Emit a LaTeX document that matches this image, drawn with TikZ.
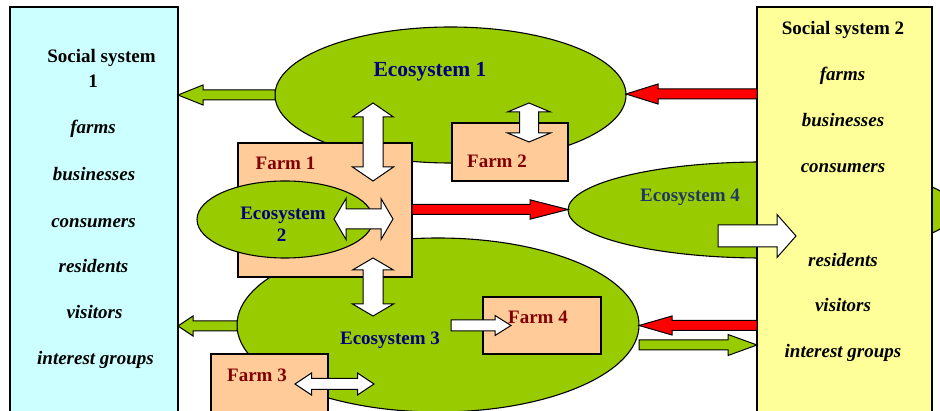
\documentclass[tikz,border=0pt]{standalone}
\usepackage{fontspec}
\setmainfont{Liberation Serif}
\usetikzlibrary{calc,shapes.geometric}
\definecolor{cyanbox}{HTML}{CCFFFF}
\definecolor{yelbox}{HTML}{FFFF99}
\definecolor{ecogreen}{HTML}{99CC00}
\definecolor{farmpeach}{HTML}{FFCC99}
\definecolor{navytxt}{HTML}{000080}
\definecolor{slatetxt}{HTML}{1F3866}
\definecolor{farmtxt}{HTML}{800000}
\definecolor{redarr}{HTML}{FF0000}
% single block arrow: style, start, tip, shaft half width, head half width, head length
\newcommand\blkarrow[6]{%
  \coordinate (bkC) at ($(#3)!#6!(#2)$);
  \draw[#1] ($(#2)!#4!90:(#3)$) -- ($(bkC)!#4!90:(#3)$) -- ($(bkC)!#5!90:(#3)$) -- (#3)
    -- ($(bkC)!#5!-90:(#3)$) -- ($(bkC)!#4!-90:(#3)$) -- ($(#2)!#4!-90:(#3)$) -- cycle;
}
% double block arrow: style, end A, end B, shaft half width, head half width, head length
\newcommand\dblarrow[6]{%
  \coordinate (bkA) at ($(#2)!#6!(#3)$);
  \coordinate (bkB) at ($(#3)!#6!(#2)$);
  \draw[#1] (#2) -- ($(bkA)!#5!90:(#3)$) -- ($(bkA)!#4!90:(#3)$) -- ($(bkB)!#4!90:(#3)$)
    -- ($(bkB)!#5!90:(#3)$) -- (#3) -- ($(bkB)!#5!-90:(#3)$) -- ($(bkB)!#4!-90:(#3)$)
    -- ($(bkA)!#4!-90:(#3)$) -- ($(bkA)!#5!-90:(#3)$) -- cycle;
}
\tikzset{
  base/.style={draw=black, line width=1.1pt, inner sep=0pt, outer sep=0pt},
  eco/.style={base, ellipse, fill=ecogreen},
  farm/.style={base, rectangle, fill=farmpeach, anchor=north west},
  ssbox/.style={base, rectangle, anchor=north west},
  arrw/.style={draw=black, line width=1pt, fill=white, line join=miter},
  arrr/.style={arrw, fill=redarr},
  arrg/.style={arrw, fill=ecogreen},
  lbl/.style={anchor=base, inner sep=0pt, font=\fontsize{19}{22}\selectfont\bfseries},
  itm/.style={anchor=base, inner sep=0pt, font=\fontsize{19}{22}\selectfont\bfseries\itshape},
}
\begin{document}
\begin{tikzpicture}[x=1pt,y=-1pt]
\useasboundingbox (0,0) rectangle (940,411);
\clip (0,0) rectangle (940,411);
\fill[white] (0,0) rectangle (940,411);
% social system boxes and ecosystems
\node[ssbox, fill=cyanbox, minimum width=168pt, minimum height=420pt] (ss1) at (10,7) {};
\node[eco, minimum width=351pt, minimum height=136pt] (eco1) at (450.5,95) {};
\node[eco, minimum width=388pt, minimum height=96pt] (eco4) at (762,210) {};
\node[eco, minimum width=402pt, minimum height=174pt] (eco3) at (438,325) {};
\node[ssbox, fill=yelbox, minimum width=175pt, minimum height=420pt] (ss2) at (757,7) {};
% farms
\node[farm, minimum width=174pt, minimum height=134pt] (farm1) at (238,143) {};
\node[farm, minimum width=116pt, minimum height=58pt] (farm2) at (452,123) {};
\node[farm, minimum width=117pt, minimum height=70pt] (farm3) at (211,354) {};
\node[farm, minimum width=118pt, minimum height=57pt] (farm4) at (483,297) {};
\node[eco, minimum width=176pt, minimum height=77pt] (eco2) at (285,219.5) {};
% arrow end points
\coordinate (a1s) at (eco1.west);
\coordinate (a1e) at (ss1.east |- eco1.west);
\coordinate (a2s) at (ss2.west |- 0,94);
\coordinate (a2e) at (eco1.east |- 0,94);
\coordinate (a3a) at (373,103);
\coordinate (a3b) at (373,181);
\coordinate (a4a) at (529,103);
\coordinate (a4b) at (529,142);
\coordinate (a5a) at (334,219);
\coordinate (a5b) at (393,219);
\coordinate (a6a) at (373,258);
\coordinate (a6b) at (373,316);
\coordinate (a7s) at (farm1.east |- 0,209.5);
\coordinate (a7e) at (eco4.west |- 0,209.5);
\coordinate (a8s) at (718,236);
\coordinate (a8e) at (796,236);
\coordinate (a9s) at (451,325.5);
\coordinate (a9e) at (511,325.5);
\coordinate (a10a) at (295,384);
\coordinate (a10b) at (374,384);
\coordinate (a11s) at (eco3.west |- 0,326);
\coordinate (a11e) at (ss1.east |- 0,326);
\coordinate (a12s) at (ss2.west |- 0,325.5);
\coordinate (a12e) at (639,325.5);
\coordinate (a13s) at (639,345);
\coordinate (a13e) at (ss2.west |- 0,345);
% arrows
\blkarrow{arrg}{a1s}{a1e}{5pt}{10pt}{25pt}
\blkarrow{arrr}{a2s}{a2e}{5pt}{10pt}{32pt}
\dblarrow{arrw}{a3a}{a3b}{10pt}{20.5pt}{14pt}
\dblarrow{arrw}{a4a}{a4b}{9.5pt}{21.5pt}{9pt}
\dblarrow{arrw}{a5a}{a5b}{10pt}{20.5pt}{12pt}
\dblarrow{arrw}{a6a}{a6b}{10pt}{20.5pt}{12pt}
\blkarrow{arrr}{a7s}{a7e}{5pt}{9.7pt}{38pt}
\blkarrow{arrw}{a8s}{a8e}{11pt}{21.5pt}{19pt}
\blkarrow{arrw}{a9s}{a9e}{5.5pt}{10pt}{16pt}
\dblarrow{arrw}{a10a}{a10b}{5.5pt}{11pt}{16.5pt}
\blkarrow{arrg}{a11s}{a11e}{5pt}{10pt}{15pt}
\blkarrow{arrr}{a12s}{a12e}{5pt}{9.5pt}{33pt}
\blkarrow{arrg}{a13s}{a13e}{5pt}{10.5pt}{29pt}
% texts: social system 1
\node[lbl] (t1a) at (101.5,63) {Social system};
\node[lbl] (t1b) at (93,88) {1};
\node[itm] (t1c) at (93,134) {farms};
\node[itm] (t1d) at (94,180.5) {businesses};
\node[itm] (t1e) at (93.5,227.5) {consumers};
\node[itm] (t1f) at (93.5,273) {residents};
\node[itm] (t1g) at (94.5,319) {visitors};
\node[itm] (t1h) at (95.5,365) {interest groups};
% texts: social system 2
\node[lbl] (t2a) at (843,35) {Social system 2};
\node[itm] (t2c) at (842.5,80.5) {farms};
\node[itm] (t2d) at (843,126.5) {businesses};
\node[itm] (t2e) at (843,173) {consumers};
\node[itm] (t2f) at (843,266.5) {residents};
\node[itm] (t2g) at (843,312) {visitors};
\node[itm] (t2h) at (843,357.5) {interest groups};
% ecosystem and farm labels
\node[lbl, text=navytxt, font=\fontsize{21.5}{24}\selectfont\bfseries] (te1) at (430,76.5) {Ecosystem 1};
\node[lbl, text=navytxt] (te2a) at (283,220) {Ecosystem};
\node[lbl, text=navytxt] (te2b) at (281.5,241.5) {2};
\node[lbl, text=navytxt] (te3) at (390,344.3) {Ecosystem 3};
\node[lbl, text=slatetxt] (te4) at (690,201.7) {Ecosystem 4};
\node[lbl, text=farmtxt] (tf1) at (285.5,169.3) {Farm 1};
\node[lbl, text=farmtxt] (tf2) at (497,167.7) {Farm 2};
\node[lbl, text=farmtxt] (tf3) at (257,381.7) {Farm 3};
\node[lbl, text=farmtxt] (tf4) at (538,323.3) {Farm 4};
\end{tikzpicture}
\end{document}
